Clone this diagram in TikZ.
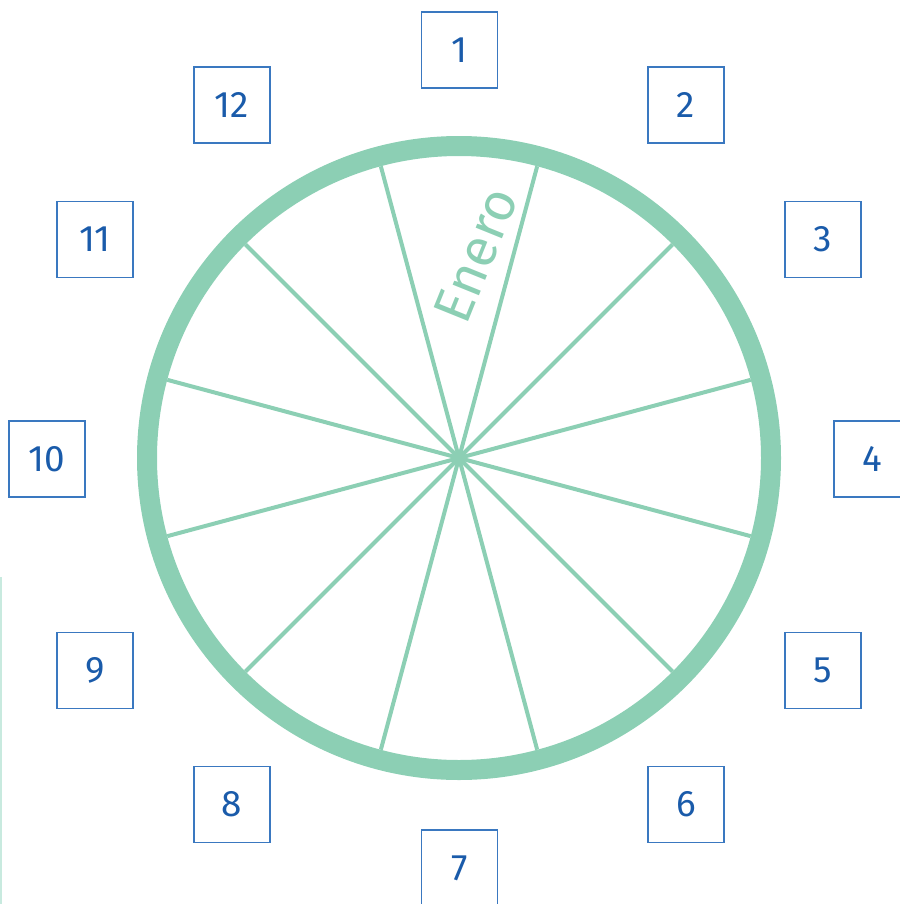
\documentclass[tikz,border=0pt]{standalone}
\usepackage{fontspec}
\setmainfont{Fira Sans}
\definecolor{ringgreen}{HTML}{8CCFB4}
\definecolor{numblue}{HTML}{1A5BAA}
\definecolor{boxblue}{HTML}{3A78C0}
\definecolor{faint}{HTML}{C8EADF}
\begin{document}
\begin{tikzpicture}[x=1bp,y=-1bp,
  numbox/.style={draw=boxblue,line width=1.2bp,minimum size=76bp,inner sep=0pt,
    text=numblue,font=\fontsize{37}{37}\selectfont},
  spoke/.style={draw=ringgreen,line width=4bp},
  ring/.style={draw=ringgreen,line width=20bp}]
\useasboundingbox (0,0) rectangle (900,904);
\coordinate (c) at (459,458);
\draw[ring] (c) circle[radius=312];
\foreach \a in {15,45,...,345}{
  \draw[spoke] (c) -- ++(\a:302 and -302);
}
\node[text=ringgreen,rotate=68,font=\fontsize{54}{54}\selectfont] (enero) at (476,255) {Enero};
\node[numbox] (n1) at (459.5,50) {1};
\node[numbox] (n2) at (686,105) {2};
\node[numbox] (n3) at (823,239.5) {3};
\node[numbox] (n4) at (872,459) {4};
\node[numbox] (n5) at (823,670.5) {5};
\node[numbox] (n6) at (686,804.5) {6};
\node[numbox] (n7) at (459.5,868) {7};
\node[numbox] (n8) at (232,804.5) {8};
\node[numbox] (n9) at (95,670.5) {9};
\node[numbox] (n10) at (47,459) {10};
\node[numbox] (n11) at (95,239.5) {11};
\node[numbox] (n12) at (232,105) {12};
\coordinate (ft) at (1,577);
\coordinate (fb) at (1,904);
\draw[faint,line width=2bp] (ft) -- (fb);
\end{tikzpicture}
\end{document}
